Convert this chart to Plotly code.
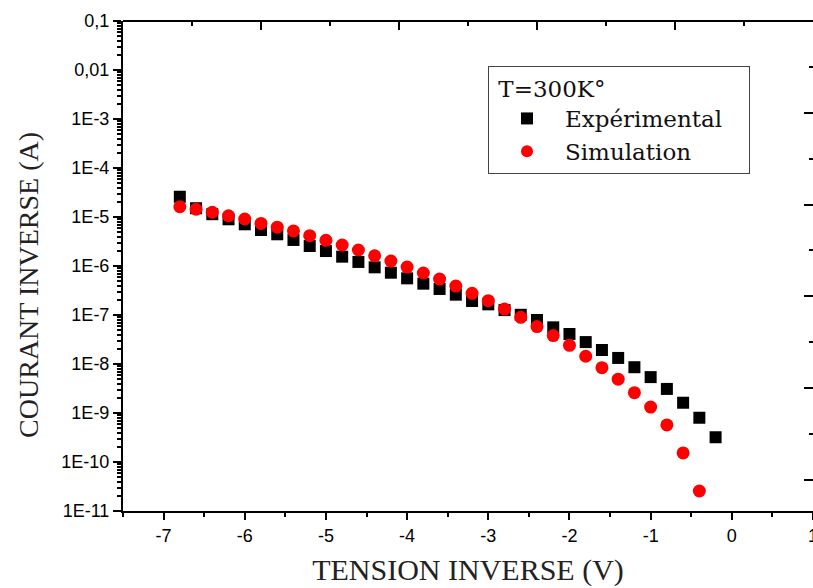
import plotly.graph_objects as go

# Reverse bias sweep (V)
v_exp = [-6.8, -6.6, -6.4, -6.2, -6.0, -5.8, -5.6, -5.4, -5.2, -5.0, -4.8, -4.6,
         -4.4, -4.2, -4.0, -3.8, -3.6, -3.4, -3.2, -3.0, -2.8, -2.6, -2.4, -2.2,
         -2.0, -1.8, -1.6, -1.4, -1.2, -1.0, -0.8, -0.6, -0.4, -0.2]
i_exp = [2.59e-5, 1.51e-5, 1.14e-5, 8.98e-6, 7.10e-6, 5.43e-6, 4.44e-6, 3.40e-6,
         2.56e-6, 2.02e-6, 1.55e-6, 1.21e-6, 9.4e-7, 7.3e-7, 5.6e-7, 4.36e-7,
         3.40e-7, 2.60e-7, 1.93e-7, 1.65e-7, 1.26e-7, 1.01e-7, 7.9e-8, 5.6e-8,
         4.1e-8, 2.8e-8, 1.93e-8, 1.33e-8, 8.6e-9, 5.4e-9, 3.1e-9, 1.62e-9,
         8.0e-10, 3.2e-10]

v_sim = [-6.8, -6.6, -6.4, -6.2, -6.0, -5.8, -5.6, -5.4, -5.2, -5.0, -4.8, -4.6,
         -4.4, -4.2, -4.0, -3.8, -3.6, -3.4, -3.2, -3.0, -2.8, -2.6, -2.4, -2.2,
         -2.0, -1.8, -1.6, -1.4, -1.2, -1.0, -0.8, -0.6, -0.4]
i_sim = [1.62e-5, 1.44e-5, 1.25e-5, 1.06e-5, 9.1e-6, 7.4e-6, 6.2e-6, 5.2e-6,
         4.15e-6, 3.34e-6, 2.68e-6, 2.12e-6, 1.62e-6, 1.26e-6, 9.5e-7, 7.2e-7,
         5.4e-7, 3.9e-7, 2.77e-7, 1.96e-7, 1.32e-7, 8.97e-8, 5.8e-8, 3.8e-8,
         2.41e-8, 1.44e-8, 8.4e-9, 4.9e-9, 2.6e-9, 1.32e-9, 5.7e-10, 1.53e-10,
         2.56e-11]

x_ticks = [-7, -6, -5, -4, -3, -2, -1, 0, 1]
y_ticks = [1e-1, 1e-2, 1e-3, 1e-4, 1e-5, 1e-6, 1e-7, 1e-8, 1e-9, 1e-10, 1e-11]
y_labels = ["0,1", "0,01", "1E-3", "1E-4", "1E-5", "1E-6", "1E-7", "1E-8",
            "1E-9", "1E-10", "1E-11"]

tick_font = dict(family="Liberation Sans, Arial", size=18, color="black")
serif = "Liberation Serif, Times New Roman, serif"
legend_font = "DejaVu Serif, serif"
pad = "\u00a0"

fig = go.Figure()
fig.add_trace(go.Scatter(
    x=v_exp, y=i_exp, mode="markers", name="Expérimental" + pad * 3,
    marker=dict(symbol="square", size=12, color="black"),
))
fig.add_trace(go.Scatter(
    x=v_sim, y=i_sim, mode="markers", name="Simulation",
    marker=dict(symbol="circle", size=13, color="#ff0000"),
))
# Frame axes (top and right) carry their own tick spacing; empty traces bind them
fig.add_trace(go.Scatter(
    x=[None], y=[None], xaxis="x2", yaxis="y", mode="markers",
    showlegend=False, hoverinfo="skip",
))
fig.add_trace(go.Scatter(
    x=[None], y=[None], xaxis="x", yaxis="y2", mode="markers",
    showlegend=False, hoverinfo="skip",
))

fig.update_layout(
    width=813, height=588,
    margin=dict(l=123, r=0, t=21, b=77),
    paper_bgcolor="white", plot_bgcolor="white",
    showlegend=True,
    legend=dict(
        x=0.529, y=0.908, xanchor="left", yanchor="top",
        bgcolor="white", bordercolor="#444", borderwidth=1,
        font=dict(family=legend_font, size=23, color="#111"),
        title=dict(text=" T=300K°", font=dict(family=legend_font, size=23, color="#111")),
        itemsizing="constant",
        itemwidth=66,
        tracegroupgap=0,
    ),
    xaxis=dict(
        range=[-7.5, 1], tickvals=x_ticks, ticktext=[str(t) for t in x_ticks],
        showgrid=False, zeroline=False, automargin=False,
        showline=True, linecolor="black", linewidth=2,
        ticks="outside", ticklen=7, tickwidth=2, tickcolor="black",
        minor=dict(tickvals=[-7.5, -6.5, -5.5, -4.5, -3.5, -2.5, -1.5, -0.5, 0.5],
                   ticks="outside", ticklen=4, tickwidth=2, tickcolor="black", showgrid=False),
        tickfont=tick_font,
        ticklabeloverflow="allow",
        title=dict(text="TENSION INVERSE (V)", standoff=14,
                   font=dict(family=serif, size=30, color="#222")),
    ),
    yaxis=dict(
        type="log", range=[-11, -1], tickvals=y_ticks, ticktext=y_labels,
        showgrid=False, zeroline=False, automargin=False,
        showline=True, linecolor="black", linewidth=2,
        ticks="outside", ticklen=8, tickwidth=2, tickcolor="black",
        minor=dict(dtick="D1", ticks="outside", ticklen=4, tickwidth=1.5,
                   tickcolor="black", showgrid=False),
        tickfont=tick_font,
    ),
    xaxis2=dict(
        type="linear", overlaying="x", side="top", range=[0, 5],
        anchor="free", position=1.0,
        showgrid=False, zeroline=False, showticklabels=False, automargin=False,
        showline=True, linecolor="black", linewidth=2,
        ticks="inside", ticklen=8, tickwidth=2, tickcolor="black",
        tickvals=[1, 2, 3, 4],
        minor=dict(tickvals=[0.5, 1.5, 2.5, 3.5, 4.5], ticks="inside",
                   ticklen=4, tickwidth=2, tickcolor="black", showgrid=False),
    ),
    yaxis2=dict(
        type="linear", overlaying="y", side="right", range=[-10.68, 0], anchor="x",
        showgrid=False, zeroline=False, showticklabels=False, automargin=False,
        showline=True, linecolor="black", linewidth=2,
        ticks="inside", ticklen=9, tickwidth=2, tickcolor="black",
        tickvals=[-2, -4, -6, -8, -10],
        minor=dict(tickvals=[-1, -3, -5, -7, -9], ticks="inside",
                   ticklen=4, tickwidth=2, tickcolor="black", showgrid=False),
    ),
    annotations=[dict(
        text="COURANT INVERSE (A)", textangle=-90,
        xref="paper", yref="paper", x=-0.138, y=0.461,
        xanchor="center", yanchor="middle", showarrow=False,
        font=dict(family=serif, size=28, color="#222"),
    )],
)

fig.write_html("out.html")
